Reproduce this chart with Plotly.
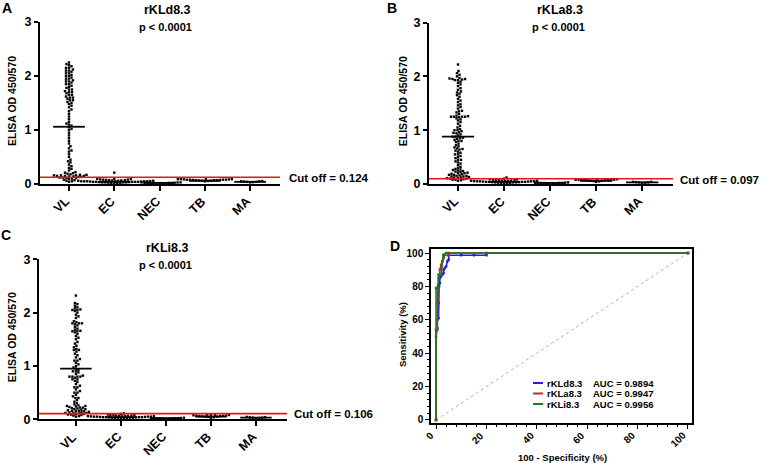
import plotly.graph_objects as go

W, H = 760, 463

categories = ["VL", "EC", "NEC", "TB", "MA"]

# ---------------- Panel A (rKLd8.3) ----------------
a_vl = [0.04, 0.05, 0.06, 0.07, 0.08, 0.09, 0.10, 0.11, 0.12, 0.13, 0.14, 0.15, 0.15, 0.16,
        0.16, 0.17, 0.18, 0.19, 0.20, 0.21, 0.22, 0.14, 0.13, 0.15, 0.16, 0.17, 0.12, 0.11,
        0.25, 0.28, 0.30, 0.33, 0.36, 0.40, 0.42, 0.45, 0.50, 0.55, 0.60, 0.62, 0.66, 0.70,
        0.75, 0.80, 0.85, 0.90,
        0.95, 1.00, 1.02, 1.05, 1.08, 1.10, 1.12, 1.15, 1.20, 1.25, 1.30, 1.35, 1.38,
        1.42, 1.45, 1.48, 1.50, 1.52, 1.55, 1.58, 1.60, 1.62, 1.65, 1.68, 1.70, 1.72, 1.75,
        1.78, 1.80, 1.82, 1.85, 1.88, 1.90, 1.92, 1.95, 1.97, 2.00, 2.02, 2.05, 2.08, 2.10,
        2.12, 2.15, 2.18, 2.20, 2.22, 2.25, 1.55, 1.65, 1.75, 1.85, 1.95, 2.05, 2.10, 2.15,
        1.60, 1.70, 1.90, 2.00]
a_ec = [0.01, 0.015, 0.02, 0.02, 0.025, 0.03, 0.03, 0.03, 0.035, 0.035, 0.04, 0.04, 0.04,
        0.04, 0.045, 0.045, 0.05, 0.05, 0.05, 0.05, 0.055, 0.055, 0.06, 0.06, 0.06, 0.065,
        0.065, 0.07, 0.07, 0.075, 0.08, 0.08, 0.085, 0.09, 0.095, 0.10, 0.04, 0.05, 0.03, 0.21]
a_nec = [0.01, 0.012, 0.015, 0.015, 0.018, 0.02, 0.02, 0.02, 0.022, 0.025, 0.025, 0.028,
         0.03, 0.03]
a_tb = [0.05, 0.055, 0.06, 0.06, 0.065, 0.07, 0.07, 0.07, 0.075, 0.075, 0.08, 0.08, 0.08,
        0.08, 0.085, 0.085, 0.09, 0.09, 0.09, 0.095]
a_ma = [0.03, 0.035, 0.04, 0.04, 0.045, 0.05, 0.05, 0.055]
a_means = [1.06, 0.04, 0.02, 0.06, 0.04]
a_cutoff = 0.124

# ---------------- Panel B (rKLa8.3) ----------------
b_vl = [0.06, 0.07, 0.08, 0.09, 0.10, 0.10, 0.11, 0.12, 0.12, 0.13, 0.14, 0.15, 0.15, 0.16,
        0.17, 0.18, 0.19, 0.20, 0.20, 0.21, 0.22, 0.23, 0.24, 0.25, 0.26, 0.27, 0.28, 0.30,
        0.08, 0.11, 0.14, 0.17,
        0.32, 0.35, 0.38, 0.40, 0.42, 0.45, 0.48, 0.50, 0.52, 0.55, 0.58, 0.60, 0.62, 0.64,
        0.66, 0.68, 0.70, 0.45, 0.55, 0.65,
        0.72, 0.75, 0.78, 0.80, 0.82, 0.84, 0.86, 0.88, 0.90, 0.92, 0.94, 0.96, 0.98, 1.00,
        1.02, 1.05, 1.08, 0.85, 0.88, 0.95, 1.00, 0.80,
        1.12, 1.15, 1.18, 1.20, 1.22, 1.24, 1.25, 1.25, 1.26, 1.27, 1.30, 1.33, 1.36, 1.40,
        1.43, 1.46, 1.48, 1.25, 1.25, 1.35,
        1.52, 1.55, 1.58, 1.62, 1.65, 1.68, 1.72, 1.75, 1.78, 1.82, 1.85, 1.88, 1.90, 1.93,
        1.93, 1.94, 1.95, 1.95, 1.96, 1.97, 2.00, 2.03, 2.06, 2.10, 2.22, 1.70]
b_ec = [0.01, 0.015, 0.02, 0.02, 0.025, 0.03, 0.03, 0.03, 0.035, 0.035, 0.04, 0.04, 0.04,
        0.04, 0.045, 0.045, 0.05, 0.05, 0.05, 0.05, 0.055, 0.055, 0.06, 0.06, 0.06, 0.065,
        0.065, 0.07, 0.07, 0.075, 0.08, 0.085, 0.09, 0.10, 0.12]
b_nec = [0.01, 0.012, 0.015, 0.015, 0.018, 0.02, 0.02, 0.02, 0.022, 0.025, 0.025, 0.03]
b_tb = [0.04, 0.05, 0.055, 0.06, 0.06, 0.065, 0.07, 0.07, 0.07, 0.075, 0.075, 0.08, 0.08,
        0.08, 0.085, 0.09]
b_ma = [0.02, 0.025, 0.03, 0.03, 0.035, 0.04, 0.04]
b_means = [0.88, 0.04, 0.02, 0.06, 0.03]
b_cutoff = 0.097

# ---------------- Panel C (rKLi8.3) ----------------
c_vl = [0.05, 0.06, 0.07, 0.08, 0.09, 0.10, 0.10, 0.11, 0.12, 0.12, 0.13, 0.14, 0.15, 0.16,
        0.17, 0.18, 0.19, 0.20, 0.21, 0.22, 0.23, 0.24, 0.25, 0.26, 0.28, 0.30, 0.09, 0.13,
        0.16, 0.19, 0.22, 0.25, 0.12, 0.15,
        0.33, 0.36, 0.40, 0.43, 0.46, 0.50, 0.53, 0.56, 0.60, 0.63, 0.66, 0.70, 0.40, 0.50,
        0.60,
        0.72, 0.75, 0.78, 0.80, 0.80, 0.80, 0.82, 0.85, 0.88, 0.90, 0.93, 0.95, 0.97, 1.00,
        0.80, 0.75, 0.90,
        1.03, 1.06, 1.10, 1.13, 1.16, 1.20, 1.23, 1.27, 1.30, 1.32, 1.35, 1.38, 1.10, 1.30,
        1.42, 1.45, 1.50, 1.53, 1.56, 1.60, 1.63, 1.65, 1.66, 1.68, 1.70, 1.73, 1.76, 1.78,
        1.80, 1.80, 1.82, 1.84, 1.65, 1.80,
        1.90, 1.93, 1.96, 2.00, 2.03, 2.05, 2.05, 2.06, 2.08, 2.10, 2.13, 2.16, 2.18, 2.32]
c_ec = [0.01, 0.015, 0.02, 0.02, 0.025, 0.03, 0.03, 0.03, 0.035, 0.035, 0.04, 0.04, 0.04,
        0.04, 0.045, 0.045, 0.05, 0.05, 0.05, 0.05, 0.055, 0.055, 0.06, 0.06, 0.06, 0.065,
        0.065, 0.07, 0.07, 0.075, 0.08, 0.085, 0.09, 0.10, 0.11]
c_nec = [0.01, 0.012, 0.015, 0.015, 0.018, 0.02, 0.02, 0.02, 0.022, 0.025, 0.025, 0.03]
c_tb = [0.03, 0.04, 0.045, 0.05, 0.05, 0.055, 0.06, 0.06, 0.065, 0.07, 0.07, 0.075, 0.08,
        0.08, 0.085, 0.09]
c_ma = [0.02, 0.025, 0.03, 0.03, 0.035, 0.04, 0.045]
c_means = [0.95, 0.04, 0.02, 0.05, 0.03]
c_cutoff = 0.106

# ---------------- Panel D (ROC) ----------------
roc_names = ["rKLd8.3", "rKLa8.3", "rKLi8.3"]
roc_auc = ["0.9894", "0.9947", "0.9956"]
roc_colors = ["#1f1fe0", "#c62828", "#1e7a1e"]
roc_ticks = [0, 20, 40, 60, 80, 100]
roc_d_fpr = [0, 0, 0.5, 0.5, 1.0, 1.0, 1.2, 1.5, 1.5, 2.0, 2.5, 3.0, 3.0, 3.5, 4.0, 4.5,
             5.0, 5.0, 10, 15, 20, 20, 100]
roc_d_tpr = [0, 50, 55, 60, 61, 70, 80, 82, 85, 86, 87, 88, 90, 91, 92, 95, 96, 98.7,
             98.7, 98.7, 98.7, 100, 100]
roc_a_fpr = [0, 0, 0.5, 0.5, 0.7, 1.0, 1.5, 1.5, 2.0, 2.5, 3.0, 3.0, 5.0, 5.0, 100]
roc_a_tpr = [0, 54, 54, 70, 80, 85, 87, 90, 93, 95, 97, 98.7, 98.7, 100, 100]
roc_i_fpr = [0, 0, 1.0, 1.0, 2.0, 2.2, 2.5, 3.0, 3.0, 4.0, 100]
roc_i_tpr = [0, 79, 79, 87, 87, 92, 95, 98, 99, 100, 100]

FONT = "Liberation Sans, Arial, sans-serif"


def px_x(x):
    return x / W


def px_y(y):
    return 1 - y / H


def swarm(vals, center, xs, ys, d=2.6):
    """Beeswarm layout: horizontal offsets (px) so dots don't overlap."""
    placed = []
    xo, yo = [], []
    for v in sorted(vals):
        y = v * ys
        k = 0
        while True:
            off = ((k + 1) // 2) * 0.5 * (1 if k % 2 == 1 else -1)
            ok = True
            for (px, py) in placed:
                if abs(y - py) < d and (off - px) ** 2 + (y - py) ** 2 < d * d:
                    ok = False
                    break
            if ok:
                break
            k += 1
        placed.append((off, y))
        xo.append(center + off / xs)
        yo.append(v)
    return xo, yo


fig = go.Figure()

panels = [
    dict(title="rKLd8.3", groups=[a_vl, a_ec, a_nec, a_tb, a_ma], means=a_means, cut=a_cutoff,
         xa="x", ya="y", xd=(40, 280), yd=(22, 184), xr=(-0.64, 4.66), letter="A",
         letter_pos=(7, 8), title_x=167, title_y=10, p_y=27, ylab_x=12,
         cut_x=287, cut_y=178),
    dict(title="rKLa8.3", groups=[b_vl, b_ec, b_nec, b_tb, b_ma], means=b_means, cut=b_cutoff,
         xa="x2", ya="y2", xd=(429, 673), yd=(22.5, 184), xr=(-0.63, 4.67), letter="B",
         letter_pos=(392, 8), title_x=560, title_y=10, p_y=27, ylab_x=403,
         cut_x=678, cut_y=180),
    dict(title="rKLi8.3", groups=[c_vl, c_ec, c_nec, c_tb, c_ma], means=c_means, cut=c_cutoff,
         xa="x3", ya="y3", xd=(39, 287), yd=(259.3, 419.3), xr=(-0.82, 4.69), letter="C",
         letter_pos=(6, 235), title_x=167, title_y=248, p_y=265, ylab_x=12,
         cut_x=292, cut_y=414),
]

annotations = []
shapes = []
layout_axes = {}

for i, p in enumerate(panels):
    x0, x1 = p["xd"]
    ytop, ybot = p["yd"]
    xs = (x1 - x0) / (p["xr"][1] - p["xr"][0])
    ys = (ybot - ytop) / 3.0
    for c, vals in enumerate(p["groups"]):
        xo, yo = swarm(vals, c, xs, ys)
        fig.add_trace(go.Scatter(x=xo, y=yo, mode="markers", xaxis=p["xa"], yaxis=p["ya"],
                                 marker=dict(symbol="square", size=2.4, color="black"),
                                 cliponaxis=False, hoverinfo="skip"))
        m = p["means"][c]
        fig.add_trace(go.Scatter(x=[c - 0.35, c + 0.35], y=[m, m], mode="lines",
                                 xaxis=p["xa"], yaxis=p["ya"], cliponaxis=False,
                                 line=dict(color="black", width=1.8), hoverinfo="skip"))
    xname = "xaxis" if i == 0 else f"xaxis{i + 1}"
    yname = "yaxis" if i == 0 else f"yaxis{i + 1}"
    layout_axes[xname] = dict(
        domain=[px_x(x0), px_x(x1)], range=list(p["xr"]), anchor=p["ya"], automargin=False,
        tickvals=list(range(len(categories))), showticklabels=False,
        ticks="outside", ticklen=5, tickwidth=1.5, tickcolor="black",
        showline=True, linewidth=2, linecolor="black", showgrid=False, zeroline=False)
    layout_axes[yname] = dict(
        domain=[px_y(ybot), px_y(ytop)], range=[0, 3], anchor=p["xa"], dtick=1,
        automargin=False,
        ticks="outside", ticklen=4, tickwidth=1.5, tickcolor="black",
        showline=True, linewidth=2, linecolor="black", showgrid=False, zeroline=False,
        tickfont=dict(family=FONT, size=12.5, color="black", weight="bold"))
    # rotated category labels
    for c, cat in enumerate(categories):
        annotations.append(dict(
            text=cat, x=c, xref=p["xa"], y=px_y(ybot), yref="paper", textangle=-45,
            xanchor="right", yanchor="top", xshift=6, yshift=-8, showarrow=False,
            font=dict(family=FONT, size=12.5, color="black", weight="bold")))
    xref_dom = p["xa"] + " domain"
    shapes.append(dict(type="line", xref=xref_dom, yref=p["ya"], x0=0, x1=1,
                       y0=p["cut"], y1=p["cut"], line=dict(color="#e8141c", width=1.6)))
    annotations += [
        dict(text=p["letter"], x=px_x(p["letter_pos"][0]), y=px_y(p["letter_pos"][1]),
             xref="paper", yref="paper", showarrow=False, xanchor="center", yanchor="middle",
             font=dict(family=FONT, size=14, color="black", weight="bold")),
        dict(text=p["title"], x=px_x(p["title_x"]), y=px_y(p["title_y"]),
             xref="paper", yref="paper", showarrow=False, xanchor="center", yanchor="middle",
             font=dict(family=FONT, size=12.5, color="black", weight="bold")),
        dict(text="p < 0.0001", x=px_x(p["title_x"] - 2), y=px_y(p["p_y"]),
             xref="paper", yref="paper", showarrow=False, xanchor="center", yanchor="middle",
             font=dict(family=FONT, size=11, color="black", weight="bold")),
        dict(text="ELISA OD 450/570", x=px_x(p["ylab_x"]), y=px_y((ytop + ybot) / 2 - 2),
             xref="paper", yref="paper", showarrow=False, xanchor="center", yanchor="middle",
             textangle=-90, font=dict(family=FONT, size=10.5, color="black", weight="bold")),
        dict(text=f"Cut off = {p['cut']:.3f}", x=px_x(p["cut_x"]), y=px_y(p["cut_y"]),
             xref="paper", yref="paper", showarrow=False, xanchor="left", yanchor="middle",
             font=dict(family=FONT, size=11.5, color="black", weight="bold")),
    ]

# ---------------- Panel D traces ----------------
fig.add_trace(go.Scatter(x=[0, 100], y=[0, 100], mode="lines", xaxis="x4", yaxis="y4",
                         line=dict(color="#9a9a9a", width=0.8, dash="dot"), hoverinfo="skip"))
roc_data = [(roc_d_fpr, roc_d_tpr), (roc_a_fpr, roc_a_tpr), (roc_i_fpr, roc_i_tpr)]
for (fx, ty), col in zip(roc_data, roc_colors):
    fig.add_trace(go.Scatter(x=fx, y=ty, mode="lines+markers", xaxis="x4", yaxis="y4",
                             line=dict(color=col, width=1.6),
                             marker=dict(symbol="square", size=2.5, color=col),
                             cliponaxis=False, hoverinfo="skip"))

layout_axes["xaxis4"] = dict(
    domain=[px_x(431), px_x(692)], range=[-2, 101.6], anchor="y4", automargin=False,
    tickvals=roc_ticks, showticklabels=False,
    ticks="outside", ticklen=4, tickwidth=1.2, tickcolor="black",
    minor=dict(dtick=4, tick0=0, ticks="outside", ticklen=2, tickwidth=1, tickcolor="black"),
    showline=True, linewidth=1.5, linecolor="black", mirror=True,
    showgrid=False, zeroline=False)
layout_axes["yaxis4"] = dict(
    domain=[px_y(423), px_y(249)], range=[-1.8, 102.4], anchor="x4", automargin=False,
    tickvals=roc_ticks,
    ticks="outside", ticklen=4, tickwidth=1.2, tickcolor="black",
    minor=dict(dtick=4, tick0=0, ticks="outside", ticklen=2, tickwidth=1, tickcolor="black"),
    showline=True, linewidth=1.5, linecolor="black", mirror=True,
    showgrid=False, zeroline=False,
    tickfont=dict(family=FONT, size=10, color="black", weight="bold"))

for t in roc_ticks:
    annotations.append(dict(
        text=str(t), x=t, xref="x4", y=px_y(423), yref="paper", textangle=-45,
        xanchor="right", yanchor="top", xshift=3, yshift=-4, showarrow=False,
        font=dict(family=FONT, size=10, color="black", weight="bold")))

annotations += [
    dict(text="D", x=px_x(395), y=px_y(246), xref="paper", yref="paper", showarrow=False,
         xanchor="center", yanchor="middle",
         font=dict(family=FONT, size=14, color="black", weight="bold")),
    dict(text="100 - Specificity (%)", x=px_x(562), y=px_y(457), xref="paper", yref="paper",
         showarrow=False, xanchor="center", yanchor="middle",
         font=dict(family=FONT, size=9.5, color="black", weight="bold")),
    dict(text="Sensitivity (%)", x=px_x(402), y=px_y(335), xref="paper", yref="paper",
         showarrow=False, xanchor="center", yanchor="middle", textangle=-90,
         font=dict(family=FONT, size=9.5, color="black", weight="bold")),
]
legend_rows = [383, 393.5, 404]
for name, auc, col, ry in zip(roc_names, roc_auc, roc_colors, legend_rows):
    shapes.append(dict(type="line", xref="paper", yref="paper", x0=px_x(533), x1=px_x(543),
                       y0=px_y(ry), y1=px_y(ry), line=dict(color=col, width=2)))
    annotations.append(dict(text=name, x=px_x(545), y=px_y(ry), xref="paper", yref="paper",
                            showarrow=False, xanchor="left", yanchor="middle",
                            font=dict(family=FONT, size=9.5, color="black", weight="bold")))
    annotations.append(dict(text=f"AUC = {auc}", x=px_x(591), y=px_y(ry), xref="paper",
                            yref="paper", showarrow=False, xanchor="left", yanchor="middle",
                            font=dict(family=FONT, size=9.5, color="black", weight="bold")))

fig.update_layout(width=W, height=H, margin=dict(l=0, r=0, t=0, b=0),
                  paper_bgcolor="white", plot_bgcolor="white", showlegend=False,
                  annotations=annotations, shapes=shapes, **layout_axes)

fig.write_html("out.html", config={"displayModeBar": False},
               post_script="document.body.style.margin='0';document.body.style.overflow='hidden';")
